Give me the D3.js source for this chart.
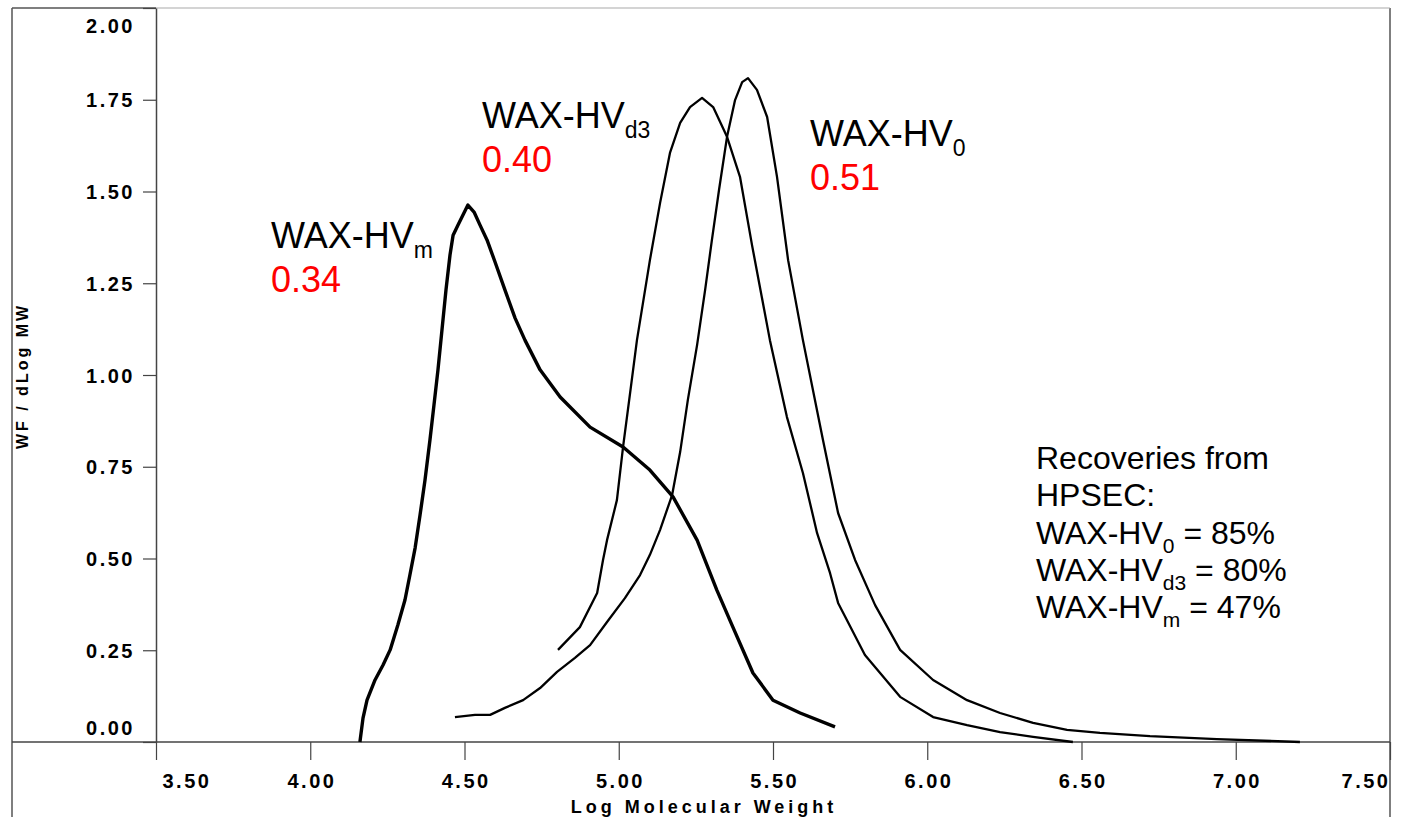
<!DOCTYPE html>
<html>
<head>
<meta charset="utf-8">
<script src="https://cdn.jsdelivr.net/npm/d3@7/dist/d3.min.js"></script>
<style>
  body { margin: 0; background: #fff; }
  svg { display: block; }
</style>
</head>
<body>
<div id="chart"></div>
<script>

// tick values
const xTicks = [3.5, 4.0, 4.5, 5.0, 5.5, 6.0, 6.5, 7.0, 7.5]
const yTicks = [0, 0.25, 0.5, 0.75, 1.0, 1.25, 1.5, 1.75, 2.0]

// WAX-HVm  (log MW, WF/dLogMW)
const hvmLogMW = [4.161, 4.171, 4.184, 4.210, 4.236, 4.259, 4.284, 4.307, 4.323, 4.340, 4.356, 4.372, 4.388, 4.401, 4.414, 4.427, 4.440, 4.453, 4.463, 4.479, 4.495, 4.511, 4.531, 4.550, 4.573, 4.599, 4.631, 4.664, 4.696, 4.745, 4.810, 4.907, 5.014, 5.101, 5.176, 5.254, 5.318, 5.370, 5.435, 5.500, 5.588, 5.701]
const hvmWF    = [0.000, 0.065, 0.114, 0.169, 0.210, 0.251, 0.319, 0.387, 0.455, 0.529, 0.619, 0.714, 0.823, 0.918, 1.014, 1.123, 1.232, 1.327, 1.381, 1.409, 1.436, 1.463, 1.444, 1.409, 1.368, 1.308, 1.232, 1.155, 1.095, 1.014, 0.940, 0.858, 0.804, 0.741, 0.668, 0.550, 0.414, 0.313, 0.188, 0.114, 0.079, 0.041]

// WAX-HVd3
const hvd3LogMW = [4.803, 4.874, 4.930, 4.949, 4.962, 4.994, 5.014, 5.036, 5.059, 5.101, 5.134, 5.166, 5.199, 5.231, 5.270, 5.306, 5.351, 5.393, 5.432, 5.490, 5.545, 5.597, 5.643, 5.685, 5.711, 5.798, 5.912, 6.019, 6.129, 6.236, 6.343, 6.472]
const hvd3WF    = [0.251, 0.313, 0.406, 0.496, 0.550, 0.659, 0.804, 0.946, 1.095, 1.313, 1.469, 1.605, 1.687, 1.730, 1.755, 1.730, 1.649, 1.540, 1.354, 1.095, 0.886, 0.733, 0.569, 0.460, 0.379, 0.237, 0.123, 0.068, 0.046, 0.027, 0.014, 0.000]

// WAX-HV0
const hv0LogMW = [4.469, 4.534, 4.583, 4.631, 4.690, 4.745, 4.800, 4.858, 4.907, 4.962, 5.020, 5.069, 5.101, 5.134, 5.173, 5.199, 5.224, 5.254, 5.280, 5.302, 5.325, 5.351, 5.377, 5.400, 5.419, 5.448, 5.481, 5.513, 5.549, 5.597, 5.662, 5.711, 5.766, 5.831, 5.912, 6.019, 6.129, 6.236, 6.343, 6.453, 6.560, 6.722, 6.939, 7.208]
const hv0WF    = [0.068, 0.074, 0.074, 0.093, 0.114, 0.147, 0.191, 0.229, 0.264, 0.327, 0.392, 0.455, 0.510, 0.578, 0.673, 0.790, 0.932, 1.082, 1.232, 1.368, 1.504, 1.649, 1.749, 1.798, 1.809, 1.777, 1.703, 1.540, 1.313, 1.095, 0.823, 0.624, 0.496, 0.373, 0.251, 0.169, 0.114, 0.079, 0.052, 0.033, 0.025, 0.016, 0.008, 0.000]

// peak labels: name, subscript, value
const peakNames = ["WAX-HV", "WAX-HV", "WAX-HV"]
const peakSubs = ["m", "d3", "0"]
const peakValues = ["0.34", "0.40", "0.51"]

const recoveryTitle = ["Recoveries from", "HPSEC:"]
const recoverySubs = ["0", "d3", "m"]
const recoveryPct = ["85%", "80%", "47%"]

const width = 1401
const height = 817

const svg = d3.select("#chart")
  .append("svg")
  .attr("width", width)
  .attr("height", height)
  .style("font-family", "'Liberation Sans', Arial, sans-serif")

const x = d3.scaleLinear().domain([3.5, 7.5]).range([156, 1390])
const y = d3.scaleLinear().domain([0, 2]).range([742, 8])

// outer frame: left and right edges, top edge (lighter past the y axis)
svg.append("line").attr("x1", 12).attr("x2", 12).attr("y1", 8).attr("y2", height)
  .attr("stroke", "#555").attr("stroke-width", 1.5)
svg.append("line").attr("x1", 1390).attr("x2", 1390).attr("y1", 8).attr("y2", height)
  .attr("stroke", "#555").attr("stroke-width", 1.5)
svg.append("line").attr("x1", 12).attr("x2", 156).attr("y1", 8).attr("y2", 8)
  .attr("stroke", "#555").attr("stroke-width", 1.5)
svg.append("line").attr("x1", 156).attr("x2", 1390).attr("y1", 8).attr("y2", 8)
  .attr("stroke", "#aaa").attr("stroke-width", 1.2)

// y axis
const yAxis = svg.append("g")
  .attr("transform", `translate(${x(3.5)},0)`)
  .call(d3.axisLeft(y).tickValues(yTicks).tickSize(13).tickSizeOuter(0).tickPadding(8).tickFormat(d3.format(".2f")))

yAxis.select(".domain").attr("stroke", "#444").attr("stroke-width", 1.5)
yAxis.selectAll(".tick line").attr("stroke", "#444").attr("stroke-width", 1.2)
yAxis.selectAll(".tick text")
  .attr("fill", "#000")
  .style("font-size", "20px")
  .style("font-weight", "bold")
  .style("letter-spacing", "2.5px")
  .attr("dy", (d, i) => d === 0 ? "-0.4em" : d === 2 ? "1.2em" : "0.35em")

// x axis line across the whole frame
svg.append("line")
  .attr("x1", 12).attr("x2", 1390)
  .attr("y1", y(0)).attr("y2", y(0))
  .attr("stroke", "#444")
  .attr("stroke-width", 1.5)

const xAxis = svg.append("g")
  .attr("transform", `translate(0,${y(0)})`)
  .call(d3.axisBottom(x).tickValues(xTicks).tickSize(18).tickSizeOuter(0).tickPadding(14).tickFormat(d3.format(".2f")))

xAxis.select(".domain").remove()
xAxis.selectAll(".tick line").attr("stroke", "#444").attr("stroke-width", 1.2)
xAxis.selectAll(".tick text")
  .attr("fill", "#000")
  .style("font-size", "20px")
  .style("font-weight", "bold")
  .style("letter-spacing", "2.5px")
  .attr("text-anchor", d => d === 3.5 ? "start" : d === 7.5 ? "end" : "middle")
  .attr("x", d => d === 3.5 ? 6 : d === 7.5 ? 0 : 1.2)

// axis titles
svg.append("text")
  .attr("x", 704)
  .attr("y", 813)
  .attr("text-anchor", "middle")
  .style("font-size", "18px")
  .style("font-weight", "bold")
  .style("letter-spacing", "4px")
  .text("Log Molecular Weight")

svg.append("text")
  .attr("transform", `translate(28,376) rotate(-90)`)
  .attr("text-anchor", "middle")
  .style("font-size", "16px")
  .style("font-weight", "bold")
  .style("letter-spacing", "3px")
  .text("WF / dLog MW")

// curves
const line = d3.line()
  .x(d => x(d[0]))
  .y(d => y(d[1]))
  .curve(d3.curveLinear)

const series = [
  { pts: d3.zip(hvmLogMW, hvmWF), w: 3.4 },
  { pts: d3.zip(hvd3LogMW, hvd3WF), w: 2.3 },
  { pts: d3.zip(hv0LogMW, hv0WF), w: 2.3 }
]

svg.append("g")
  .selectAll("path")
  .data(series)
  .join("path")
    .attr("d", d => line(d.pts))
    .attr("fill", "none")
    .attr("stroke", "#000")
    .attr("stroke-width", d => d.w)
    .attr("stroke-linejoin", "round")

// peak labels
const labelPos = [[271, 248], [482, 128], [810, 146]]

const peak = svg.append("g")
  .selectAll("g")
  .data(peakNames)
  .join("g")
    .attr("transform", (d, i) => `translate(${labelPos[i][0]},${labelPos[i][1]})`)

const name = peak.append("text")
  .style("font-size", "36px")
  .attr("fill", "#000")
name.append("tspan").text(d => d)
name.append("tspan")
  .attr("dy", 10)
  .style("font-size", "23px")
  .text((d, i) => peakSubs[i])

peak.append("text")
  .attr("y", 44)
  .style("font-size", "36px")
  .attr("fill", "#ff0000")
  .text((d, i) => peakValues[i])

// recoveries note
const note = svg.append("g").attr("transform", "translate(1036,469)")

note.selectAll("text.title")
  .data(recoveryTitle)
  .join("text")
    .attr("class", "title")
    .attr("y", (d, i) => i * 37.3)
    .style("font-size", "32px")
    .text(d => d)

const rec = note.selectAll("text.rec")
  .data(recoverySubs)
  .join("text")
    .attr("class", "rec")
    .attr("y", (d, i) => (i + 2) * 37.3)
    .style("font-size", "32px")

rec.append("tspan").text("WAX-HV")
rec.append("tspan").attr("dy", 9).style("font-size", "21px").text(d => d)
rec.append("tspan").attr("dy", -9).text((d, i) => " = " + recoveryPct[i])

</script>
</body>
</html>
